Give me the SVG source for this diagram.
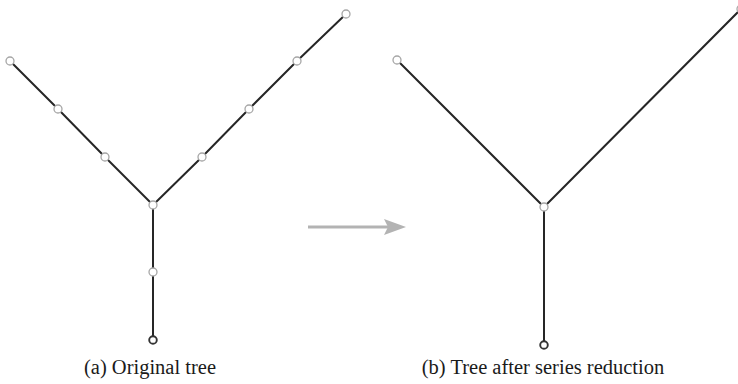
<svg xmlns="http://www.w3.org/2000/svg" width="738" height="384" viewBox="0 0 738 384">
  <style>
    .edge { stroke: #262626; stroke-width: 2; fill: none; stroke-linecap: round; }
    .node { fill: #ffffff; stroke: #a6a6a6; stroke-width: 1.3; }
    .root { fill: #ffffff; stroke: #333333; stroke-width: 1.9; }
    .cap { font-family: "Liberation Serif", "Times New Roman", serif; font-size: 20.5px; fill: #1a1a1a; text-anchor: middle; }
  </style>
  <rect width="738" height="384" fill="#ffffff"/>
  <g id="connectors">
    <g id="tree-a-edges">
      <line class="edge" x1="10" y1="61" x2="58" y2="109"/>
      <line class="edge" x1="58" y1="109" x2="105" y2="157"/>
      <line class="edge" x1="105" y1="157" x2="153" y2="205"/>
      <line class="edge" x1="153" y1="205" x2="202" y2="157"/>
      <line class="edge" x1="202" y1="157" x2="249" y2="109"/>
      <line class="edge" x1="249" y1="109" x2="297" y2="61"/>
      <line class="edge" x1="297" y1="61" x2="346" y2="14"/>
      <line class="edge" x1="153" y1="205" x2="153" y2="272"/>
      <line class="edge" x1="153" y1="272" x2="153" y2="340"/>
    </g>
    <g id="tree-b-edges">
      <line class="edge" x1="397" y1="60" x2="544" y2="207"/>
      <line class="edge" x1="544" y1="207" x2="741" y2="9"/>
      <line class="edge" x1="544" y1="207" x2="544" y2="345"/>
    </g>
    <g id="arrow">
      <line x1="308" y1="227" x2="388" y2="227" stroke="#b3b3b3" stroke-width="3"/>
      <polygon points="406,227 384,219 388,227 384,235" fill="#b3b3b3"/>
    </g>
  </g>
  <g id="a-n1"><circle class="node" cx="10" cy="61" r="4"/></g>
  <g id="a-n2"><circle class="node" cx="58" cy="109" r="4"/></g>
  <g id="a-n3"><circle class="node" cx="105" cy="157" r="4"/></g>
  <g id="a-junction"><circle class="node" cx="153" cy="205" r="4"/></g>
  <g id="a-n4"><circle class="node" cx="202" cy="157" r="4"/></g>
  <g id="a-n5"><circle class="node" cx="249" cy="109" r="4"/></g>
  <g id="a-n6"><circle class="node" cx="297" cy="61" r="4"/></g>
  <g id="a-n7"><circle class="node" cx="346" cy="14" r="4"/></g>
  <g id="a-n8"><circle class="node" cx="153" cy="272" r="4"/></g>
  <g id="a-root"><circle class="root" cx="153" cy="340" r="3.8"/></g>
  <g id="b-leaf-left"><circle class="node" cx="397" cy="60" r="4"/></g>
  <g id="b-junction"><circle class="node" cx="544" cy="207" r="4"/></g>
  <g id="b-leaf-right"><circle class="node" cx="741" cy="9" r="4"/></g>
  <g id="b-root"><circle class="root" cx="544" cy="345" r="3.8"/></g>
  <text class="cap" x="150" y="374">(a) Original tree</text>
  <text class="cap" x="543" y="374">(b) Tree after series reduction</text>
</svg>
